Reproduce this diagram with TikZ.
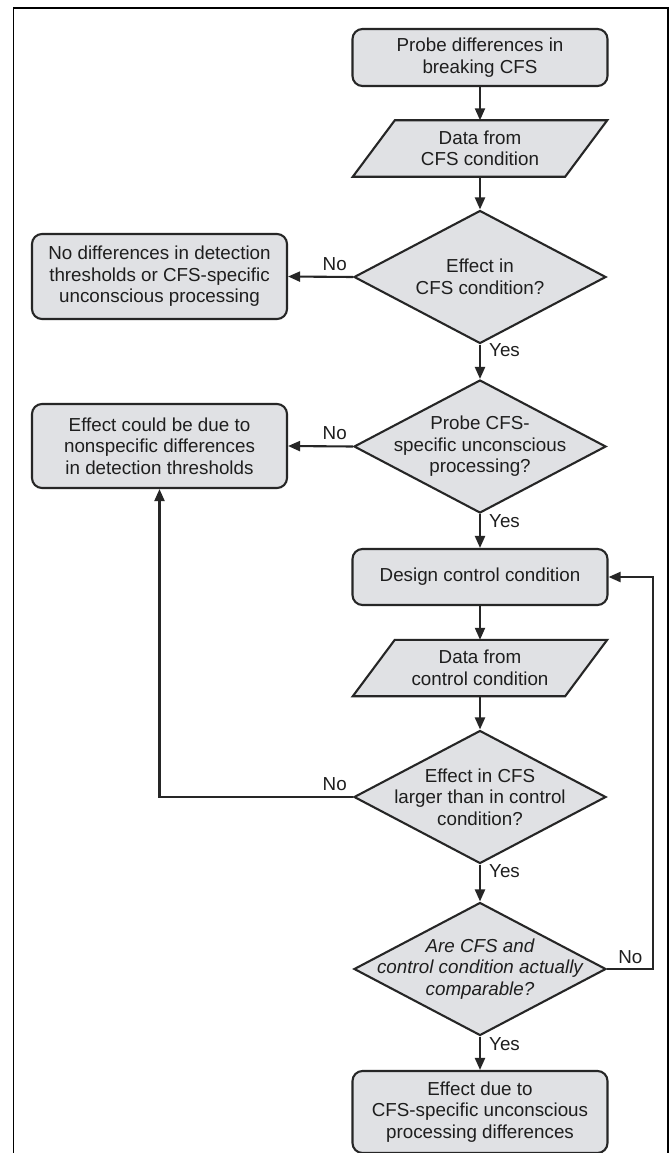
\documentclass[tikz,border=0pt]{standalone}
\usepackage{fontspec}
\setmainfont{Liberation Sans}
\usetikzlibrary{arrows.meta,shapes.geometric,backgrounds,calc}
\definecolor{boxfill}{RGB}{224,225,228}
\definecolor{stroke}{RGB}{38,38,38}
\definecolor{txt}{RGB}{30,30,30}
\begin{document}
\begin{tikzpicture}[x=1pt,y=-1pt,
  every node/.style={font=\fontsize{18.8}{21.5}\selectfont, text=txt},
  termbox/.style={draw=stroke, fill=boxfill, line width=2.1pt, rounded corners=10pt,
    minimum width=255pt, align=center, inner sep=0pt},
  databox/.style={minimum width=212pt, minimum height=56pt, inner sep=0pt, align=center},
  paral/.style={draw=stroke, fill=boxfill, line width=2.1pt, line join=miter},
  decision/.style={diamond, draw=stroke, fill=boxfill, line width=2.1pt,
    minimum width=252pt, minimum height=133pt, inner sep=0pt},
  dtext/.style={align=center, inner sep=0pt},
  ditext/.style={align=center, inner sep=0pt, font=\fontsize{18.8}{21.5}\selectfont\itshape},
  lbl/.style={inner sep=0pt},
  conn/.style={draw=stroke, line width=2.1pt, -{Triangle[length=12pt,width=10pt]}},
  frame/.style={draw=black, line width=1.8pt}
]
\useasboundingbox (0,0) rectangle (671,1153);
\begin{scope}[on background layer]
  \fill[white] (0,0) rectangle (671,1153);
\end{scope}

% frame
\draw[frame] (13.5,1170) -- (13.5,8) -- (668,8) -- (668,1170);

% main column
\node[termbox, minimum height=57pt] (b1) at (480,57.5) {Probe differences in\\breaking CFS};
\node[databox] (p1) at (480,148.5) {Data from\\CFS condition};
\node[decision] (d1) at (480,277) {};
\node[dtext] (t1) at (d1.center) {Effect in\\CFS condition?};
\node[termbox, minimum height=85pt] (n1) at (159.5,276.5) {No differences in detection\\thresholds or CFS-specific\\unconscious processing};
\node[decision] (d2) at (480,446.5) {};
\node[dtext] (t2) at (d2.center) {Probe CFS-\\specific unconscious\\processing?};
\node[termbox, minimum height=84pt] (n2) at (159.5,446) {Effect could be due to\\nonspecific differences\\in detection thresholds};
\node[termbox, minimum height=56pt] (b2) at (480,577) {Design control condition};
\node[databox] (p2) at (480,668) {Data from\\control condition};
\node[decision] (d3) at (480,797) {};
\node[dtext] (t3) at (d3.center) {Effect in CFS\\larger than in control\\condition?};
\node[decision] (d4) at (480,969) {};
\node[ditext] (t4) at (d4.center) {Are CFS and\\control condition actually\\comparable?};
\node[termbox, minimum height=82pt] (b3) at (480,1112) {Effect due to\\CFS-specific unconscious\\processing differences};

% parallelograms
\begin{scope}[on background layer]
  \path[paral] ([xshift=-21pt]p1.south west) -- ([xshift=-21pt]p1.south east)
     -- ([xshift=21pt]p1.north east) -- ([xshift=21pt]p1.north west) -- cycle;
  \path[paral] ([xshift=-21pt]p2.south west) -- ([xshift=-21pt]p2.south east)
     -- ([xshift=21pt]p2.north east) -- ([xshift=21pt]p2.north west) -- cycle;
\end{scope}

% connectors
\coordinate (fbx) at (653,0);
\draw[conn] (b1.south) -- (p1.north);
\draw[conn] (p1.south) -- (d1.north);
\draw[conn] (d1.west) -- (n1.east);
\draw[conn] (d1.south) -- (d2.north);
\draw[conn] (d2.west) -- (n2.east);
\draw[conn] (d2.south) -- (b2.north);
\draw[conn] (b2.south) -- (p2.north);
\draw[conn] (p2.south) -- (d3.north);
\draw[conn] (d3.west) -| (n2.south);
\draw[conn] (d3.south) -- (d4.north);
\draw[conn] (d4.east) -- (d4.east -| fbx) |- (b2.east);
\draw[conn] (d4.south) -- (b3.north);

% labels
\node[lbl, anchor=base east] (no1) at ($(d1.west)+(-6,-7)$) {No};
\node[lbl, anchor=base east] (no2) at ($(d2.west)+(-6,-7)$) {No};
\node[lbl, anchor=base east] (no3) at ($(d3.west)+(-6,-7)$) {No};
\node[lbl, anchor=base west] (no4) at ($(d4.east)+(11,-6)$) {No};
\node[lbl, anchor=base west] (y1) at ($(d1.south)+(9,12)$) {Yes};
\node[lbl, anchor=base west] (y2) at ($(d2.south)+(9,13)$) {Yes};
\node[lbl, anchor=base west] (y3) at ($(d3.south)+(9,13)$) {Yes};
\node[lbl, anchor=base west] (y4) at ($(d4.south)+(9,14)$) {Yes};
\end{tikzpicture}
\end{document}
